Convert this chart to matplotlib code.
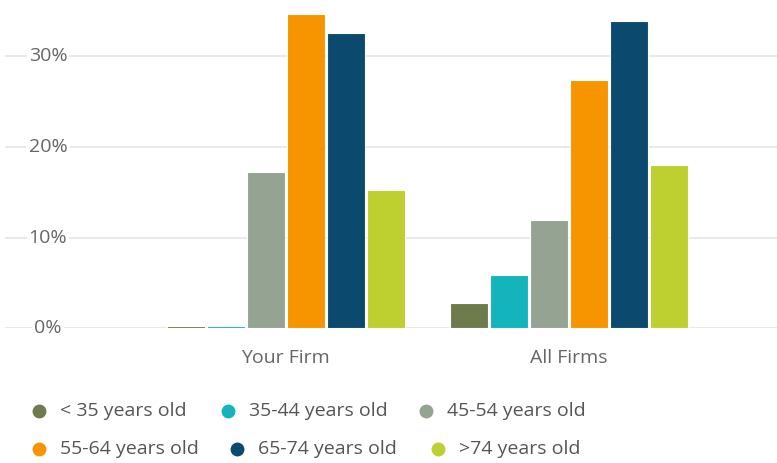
import numpy as np
import matplotlib
matplotlib.use("Agg")
import matplotlib.pyplot as plt
import matplotlib.transforms as mtransforms

plt.rcParams['font.family'] = ['Open Sans', 'DejaVu Sans']

# age bands and share of advisors per firm group (%)
firms = ['Your Firm', 'All Firms']
age_groups = ['< 35 years old', '35-44 years old', '45-54 years old',
              '55-64 years old', '65-74 years old', '>74 years old']
your_firm = [0.3, 0.3, 17.2, 34.6, 32.5, 15.2]
all_firms = [2.75, 5.9, 11.9, 27.35, 33.8, 18.0]
colors = ['#6e7b4c', '#14b4bd', '#94a392', '#f79500', '#0b4a6e', '#bdd02f']
yticks = [0, 10, 20, 30]

W, H = 777, 463
fig = plt.figure(figsize=(W / 100, H / 100), dpi=100)

zero_px = 328.3
ax = fig.add_axes([0, 1 - zero_px / H, 1, zero_px / H])
ax.set_ylim(0, zero_px / 9.077)
ax.set_xlim(-285.5 / 283, (W - 285.5) / 283)
for s in ax.spines.values():
    s.set_visible(False)
ax.set_xticks([])
ax.set_yticks([])

# gridlines + tick labels sitting on white patches
for t in yticks:
    ax.axhline(t, xmin=6 / W, xmax=1, color='#e3e3e3', lw=1.1, zorder=0)
    ax.text(48 / W, t, f'{t}%', transform=mtransforms.blended_transform_factory(ax.transAxes, ax.transData),
            ha='center', va='center', fontsize=14, color='#666666',
            bbox=dict(facecolor='white', edgecolor='none', pad=1.5), zorder=1)

step = 40 / 283
width = 38 / 283
x = np.arange(len(firms))
for i, (lab, c) in enumerate(zip(age_groups, colors)):
    vals = [your_firm[i], all_firms[i]]
    ax.bar(x + (i - 2.5) * step, vals, width=width, color=c,
           edgecolor='white', linewidth=0.8, zorder=2)

for xi, name in zip(x, firms):
    ax.text(xi, -3.3, name, ha='center', va='center', fontsize=14, color='#666666',
            transform=ax.transData, clip_on=False)

# legend laid out in two rows
lg = fig.add_axes([0, 0, 1, 1])
lg.set_xlim(0, W)
lg.set_ylim(H, 0)
lg.axis('off')
legend_pos = [(39, 410.5), (228, 410.5), (426, 410.5),
              (39, 449), (237, 449), (438, 449)]
for (mx, my), lab, c in zip(legend_pos, age_groups, colors):
    lg.plot(mx, my, 'o', ms=10, color=c, mec='none')
    lg.text(mx + 21, my, lab, ha='left', va='center', fontsize=14, color='#555555')

fig.savefig('out.png', dpi=100)
